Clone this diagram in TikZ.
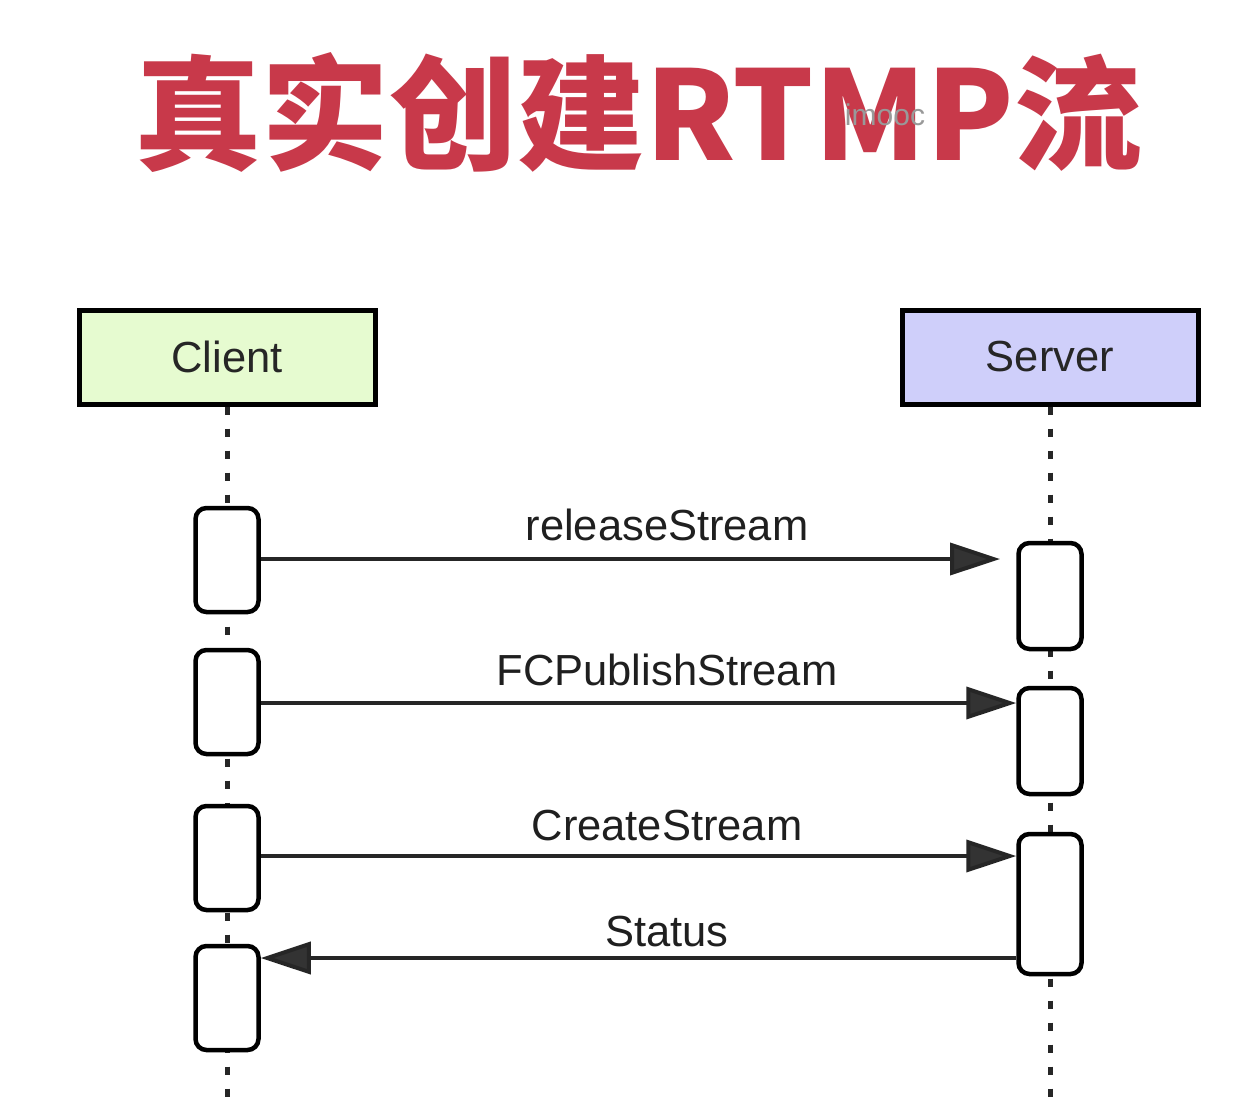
\documentclass[tikz,border=0pt]{standalone}
\usepackage{fontspec}
\setmainfont{Liberation Sans}
\newfontfamily\cjk{Noto Sans CJK SC}
\usetikzlibrary{arrows.meta}
\definecolor{titlered}{HTML}{C8394A}
\definecolor{clientfill}{HTML}{E6FBD0}
\definecolor{serverfill}{HTML}{CFCFFA}
\definecolor{tipgray}{HTML}{333333}
\begin{document}
\begin{tikzpicture}[x=1pt,y=-1pt,
  actor/.style={draw=black,line width=5pt,minimum width=296pt,minimum height=94pt,inner sep=0pt,font=\fontsize{43.5}{43.5}\selectfont,text=black!85},
  act/.style={draw=black,fill=white,line width=4.5pt,rounded corners=11pt,minimum width=63pt,inner sep=0pt},
  lifeline/.style={line width=5pt,dash pattern=on 8pt off 14pt,black!85},
  msg/.style={line width=4pt,black!85,-{Triangle[length=50pt,width=32pt,fill=tipgray]}},
  lbl/.style={anchor=base,font=\fontsize{43.5}{43.5}\selectfont,text=black!88,inner sep=0pt}]
\useasboundingbox (0,0) rectangle (1254,1096);
\fill[white] (0,0) rectangle (1254,1096);
% title
\node[xscale=1.03] (title) at (638,113) {\cjk\bfseries\color{titlered}\fontsize{124}{124}\selectfont 真实创建RTMP流};
\node (wm) at (885,115) {\fontsize{30}{30}\selectfont\color{black!40}imooc};
% actors
\node[actor,fill=clientfill] (client) at (227,357) {Client};
\node[actor,fill=serverfill] (server) at (1050,357) {Server};
\coordinate (cend) at (227,1100);
\coordinate (send) at (1050,1100);
\draw[lifeline] (client.south) -- (cend);
\draw[lifeline] (server.south) -- (send);
% activations client
\node[act,minimum height=104pt] (c1) at (227,560) {};
\node[act,minimum height=104pt] (c2) at (227,702) {};
\node[act,minimum height=104pt] (c3) at (227,858) {};
\node[act,minimum height=104pt] (c4) at (227,998) {};
% activations server
\node[act,minimum height=106pt] (s1) at (1050,596) {};
\node[act,minimum height=106pt] (s2) at (1050,741) {};
\node[act,minimum height=140pt] (s3) at (1050,904) {};
% messages
\coordinate (r1) at (1000,559);
\draw[msg] (c1.east |- r1) -- (r1);
\node[lbl] (l1) at (667,540) {releaseStream};
\draw[msg] (c2.east |- 0,703) -- (s2.west |- 0,703);
\node[lbl] (l2) at (667,685) {FCPublishStream};
\draw[msg] (c3.east |- 0,856) -- (s3.west |- 0,856);
\node[lbl] (l3) at (667,840) {CreateStream};
\draw[msg] (s3.west |- 0,958) -- (c4.east |- 0,958);
\node[lbl] (l4) at (667,946) {Status};
\end{tikzpicture}
\end{document}
